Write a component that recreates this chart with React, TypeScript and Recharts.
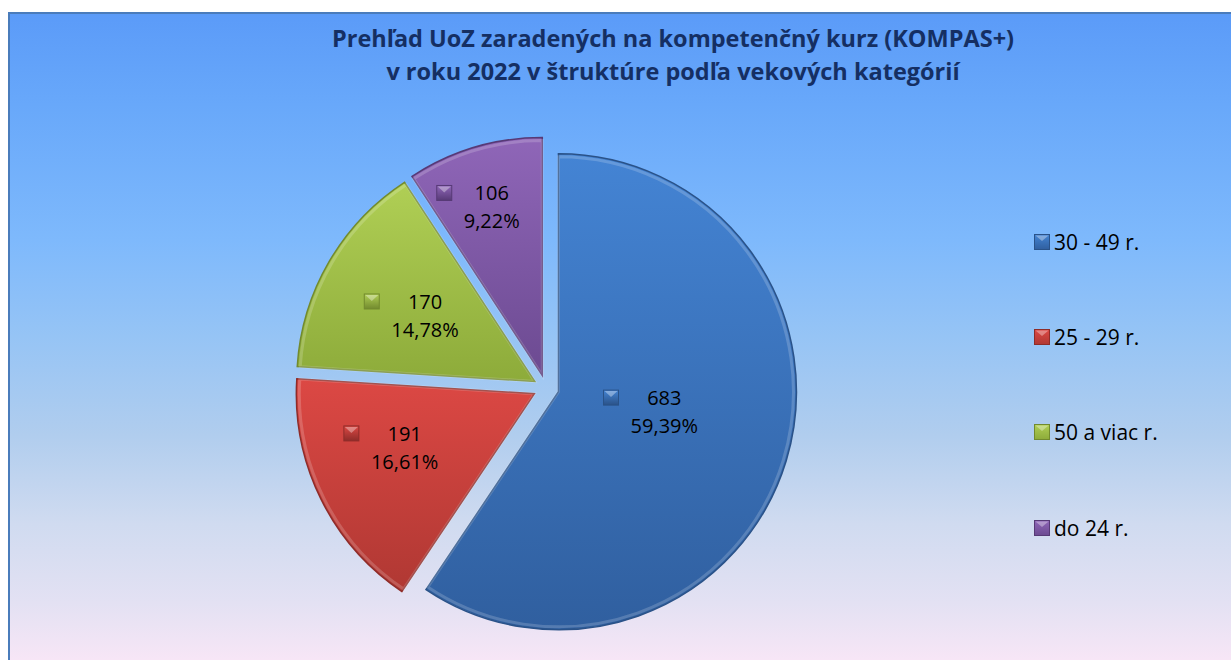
import React from 'react';
import { PieChart, Pie, Cell, Sector, Legend } from 'recharts';

const CATEGORIES = ['30 - 49 r.', '25 - 29 r.', '50 a viac r.', 'do 24 r.'];
const COUNTS = [683, 191, 170, 106];
const PERCENT_LABELS = ['59,39%', '16,61%', '14,78%', '9,22%'];

const TITLE_LINES = [
  'Prehľad UoZ zaradených na kompetenčný kurz (KOMPAS+)',
  'v roku 2022 v štruktúre podľa vekových kategórií',
];

// slice colours: [top, bottom, edge]
const COLORS = [
  ['#4484d4', '#305f9f', '#2a5288'],
  ['#dc4844', '#b03833', '#8e2c29'],
  ['#b0cf55', '#8dab3a', '#728a2e'],
  ['#8f66b8', '#6c4a91', '#573a76'],
];

const chartData = CATEGORIES.map((name, i) => ({ name, value: COUNTS[i], pct: PERCENT_LABELS[i] }));

const RAD = Math.PI / 180;
const EXPLODE = 13;
const OUTER_R = 238;
// data label placement: share of radius, small angle nudge (deg)
const LABEL_POS = [0.51, 0.65, 0.585, 0.78];
const LABEL_NUDGE = [4, -2.3, 0.5, 0.4];

const FONT = '"Open Sans", "Noto Sans", sans-serif';

const Marker = ({ x, y, i }: { x: number; y: number; i: number }) => (
  <g>
    <rect x={x} y={y} width={15} height={15} fill={`url(#mk-${i})`} stroke={COLORS[i][2]} strokeWidth={1} />
    <polygon points={`${x + 1},${y + 1} ${x + 14},${y + 1} ${x + 7.5},${y + 7}`} fill="#ffffff" opacity={0.35} />
  </g>
);

const renderSlice = (props: any) => {
  const { cx, cy, midAngle } = props;
  const dx = EXPLODE * Math.cos(-midAngle * RAD);
  const dy = EXPLODE * Math.sin(-midAngle * RAD);
  return (
    <g>
      <Sector {...props} cx={cx + dx} cy={cy + dy} />
      <Sector
        {...props}
        cx={cx + dx}
        cy={cy + dy}
        outerRadius={props.outerRadius - 3}
        fill="none"
        stroke="#ffffff"
        strokeOpacity={0.18}
        strokeWidth={3}
      />
    </g>
  );
};

const renderLabel = (props: any) => {
  const { cx, cy, midAngle, index } = props;
  const r = OUTER_R * LABEL_POS[index];
  const a = (midAngle + LABEL_NUDGE[index]) * RAD;
  const x = cx + r * Math.cos(-a);
  const y = cy + r * Math.sin(-a);
  const pct = PERCENT_LABELS[index];
  const half = pct.length * 5.8;
  return (
    <g>
      <Marker x={x - half - 26} y={y - 25} i={index} />
      <text x={x} y={y - 10} textAnchor="middle" fontFamily={FONT} fontSize={20} fill="#000">
        {COUNTS[index]}
      </text>
      <text x={x} y={y + 18} textAnchor="middle" fontFamily={FONT} fontSize={20} fill="#000">
        {pct}
      </text>
    </g>
  );
};

const renderLegend = () => (
  <div style={{ fontFamily: FONT, fontSize: 21, color: '#000' }}>
    {CATEGORIES.map((c, i) => (
      <div key={c} style={{ height: 95.3, display: 'flex', alignItems: 'center' }}>
        <svg width={17} height={16} style={{ marginRight: 3 }}>
          <defs>
            <linearGradient id={`lg-${i}`} x1="0" y1="0" x2="0" y2="1">
              <stop offset="0%" stopColor={COLORS[i][0]} />
              <stop offset="100%" stopColor={COLORS[i][1]} />
            </linearGradient>
          </defs>
          <rect x={0.5} y={0.5} width={15} height={15} fill={`url(#lg-${i})`} stroke={COLORS[i][2]} />
          <polygon points="1.5,1.5 14.5,1.5 8,7" fill="#ffffff" opacity={0.35} />
        </svg>
        <span>{c}</span>
      </div>
    ))}
  </div>
);

export default function App() {
  return (
    <>
      <style>{'body{margin:0;overflow:hidden;}'}</style>
      <div
        style={{
          position: 'absolute',
          left: 8,
          top: 12,
          width: 1223,
          height: 648,
          boxSizing: 'border-box',
          borderTop: '2px solid #4a7cbb',
          borderLeft: '2px solid #4a7cbb',
          background:
            'linear-gradient(to bottom, #5b9bf8 0%, #68a8fa 14%, #7eb9fc 35%, #96c4f5 50%, #b0cdee 65%, #d0dbf0 79%, #e3e1f3 91%, #f7e6f6 100%)',
        }}
      >
        <div
          style={{
            position: 'absolute',
            left: 0,
            top: 8,
            width: 1326,
            textAlign: 'center',
            fontFamily: FONT,
            fontWeight: 700,
            fontSize: 23.5,
            lineHeight: '32.5px',
            color: '#152f63',
          }}
        >
          {TITLE_LINES.map((t) => (
            <div key={t}>{t}</div>
          ))}
        </div>
        <PieChart width={1221} height={646} style={{ position: 'absolute', left: 0, top: 0 }}>
          <defs>
            {COLORS.map((c, i) => (
              <linearGradient key={i} id={`sg-${i}`} x1="0" y1="0" x2="0" y2="1">
                <stop offset="0%" stopColor={c[0]} />
                <stop offset="100%" stopColor={c[1]} />
              </linearGradient>
            ))}
            {COLORS.map((c, i) => (
              <linearGradient key={`m${i}`} id={`mk-${i}`} x1="0" y1="0" x2="0" y2="1">
                <stop offset="0%" stopColor={c[0]} />
                <stop offset="100%" stopColor={c[2]} />
              </linearGradient>
            ))}
          </defs>
          <Pie
            data={chartData}
            dataKey="value"
            nameKey="name"
            cx={531}
            cy={369}
            outerRadius={OUTER_R}
            startAngle={90}
            endAngle={-270}
            isAnimationActive={false}
            shape={renderSlice}
            label={renderLabel}
            labelLine={false}
          >
            {chartData.map((d, i) => (
              <Cell key={d.name} fill={`url(#sg-${i})`} stroke={COLORS[i][2]} strokeWidth={1.5} />
            ))}
          </Pie>
          <Legend
            layout="vertical"
            content={renderLegend}
            wrapperStyle={{ left: 1024, top: 180, width: 190 }}
          />
        </PieChart>
      </div>
    </>
  );
}
